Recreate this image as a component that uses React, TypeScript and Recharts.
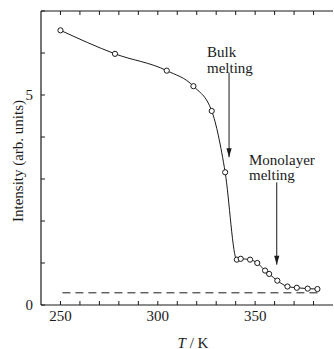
import React from 'react';
import { LineChart, Line, XAxis, YAxis } from 'recharts';

const temperatures = [250, 278, 304.6, 318.3, 327.7, 334.6, 340.6, 342.6, 347.4, 351.1, 355.1, 357.2, 361.4, 366.6, 371.4, 377.0, 382.0];
const intensities = [6.54, 5.98, 5.58, 5.21, 4.62, 3.16, 1.08, 1.10, 1.08, 1.0, 0.82, 0.74, 0.58, 0.44, 0.41, 0.39, 0.38];

const baselineT = [251, 384];
const baselineI = [0.29, 0.29];

const bulkArrowT = [336.6, 336.6];
const bulkArrowI = [5.53, 3.52];
const monoArrowT = [361.1, 361.1];
const monoArrowI = [2.92, 0.96];

const xTicks = [250, 260, 270, 280, 290, 300, 310, 320, 330, 340, 350, 360, 370, 380];
const xLabels = [250, 300, 350];
const yTicks = [0, 1, 2, 3, 4, 5, 6, 7];
const yLabels = [0, 5];

const zip = (xs: number[], ys: number[]) => xs.map((x, i) => ({ x, y: ys[i] }));

const mainData = zip(temperatures, intensities);
const baselineData = zip(baselineT, baselineI);
const bulkArrowData = zip(bulkArrowT, bulkArrowI);
const monoArrowData = zip(monoArrowT, monoArrowI);

const FONT = '"Liberation Serif", "DejaVu Serif", serif';
const INK = '#1a1a1a';
const TICK_LEN = 4;
const BOTTOM_MARGIN = 10;
const LEFT_MARGIN = 7;

const ArrowHead = (props: any) => {
  const { cx, cy, index } = props;
  if (index !== 1 || cx == null || cy == null) return <g key={`a-${index}`} />;
  return (
    <path
      key={`a-${index}`}
      d={`M${cx},${cy} L${cx - 2.6},${cy - 9} L${cx + 2.6},${cy - 9} Z`}
      fill={INK}
      stroke="none"
    />
  );
};

const BottomTick = (props: any) => {
  const { x, y, payload } = props;
  const axisY = y - BOTTOM_MARGIN;
  const v = payload.value;
  return (
    <g>
      <line x1={x} y1={axisY} x2={x} y2={axisY - TICK_LEN} stroke={INK} strokeWidth={1} />
      {xLabels.includes(v) ? (
        <text x={x} y={y + 1} dy="0.35em" textAnchor="middle" fill={INK} fontSize={15} fontFamily={FONT}>
          {v}
        </text>
      ) : null}
    </g>
  );
};

const TopTick = (props: any) => {
  const { x, y } = props;
  return <line x1={x} y1={y} x2={x} y2={y + TICK_LEN} stroke={INK} strokeWidth={1} />;
};

const LeftTick = (props: any) => {
  const { x, y, payload } = props;
  const axisX = x + LEFT_MARGIN;
  const v = payload.value;
  return (
    <g>
      <line x1={axisX} y1={y} x2={axisX + TICK_LEN} y2={y} stroke={INK} strokeWidth={1} />
      {yLabels.includes(v) ? (
        <text x={x - 1} y={y} dy="0.33em" textAnchor="end" fill={INK} fontSize={15} fontFamily={FONT}>
          {v}
        </text>
      ) : null}
    </g>
  );
};

const textStyle: React.CSSProperties = {
  position: 'absolute',
  fontFamily: FONT,
  fontSize: 15,
  color: INK,
  whiteSpace: 'nowrap',
};

export default function App() {
  return (
    <div style={{ position: 'absolute', left: 0, top: 0, width: 334, height: 349, background: '#fff' }}>
      <LineChart width={334} height={349} margin={{ top: 10, right: 1, bottom: 0, left: 0 }}>
        <XAxis
          dataKey="x"
          type="number"
          domain={[240, 390]}
          allowDataOverflow
          ticks={xTicks}
          height={44}
          tickSize={0}
          tickMargin={BOTTOM_MARGIN}
          interval={0}
          axisLine={{ stroke: INK, strokeWidth: 1.2 }}
          tickLine={false}
          tick={BottomTick}
        />
        <XAxis
          xAxisId="top"
          orientation="top"
          dataKey="x"
          type="number"
          domain={[240, 390]}
          allowDataOverflow
          ticks={xTicks}
          height={1}
          tickSize={0}
          tickMargin={0}
          interval={0}
          axisLine={{ stroke: INK, strokeWidth: 1.2 }}
          tickLine={false}
          tick={TopTick}
        />
        <YAxis
          type="number"
          domain={[0, 7]}
          allowDataOverflow
          ticks={yTicks}
          width={41}
          tickSize={0}
          tickMargin={LEFT_MARGIN}
          interval={0}
          axisLine={{ stroke: INK, strokeWidth: 1.2 }}
          tickLine={false}
          tick={LeftTick}
        />
        <Line
          data={baselineData}
          dataKey="y"
          type="linear"
          stroke={INK}
          strokeWidth={1}
          strokeDasharray="8 5"
          dot={false}
          activeDot={false}
          isAnimationActive={false}
        />
        <Line
          data={mainData}
          dataKey="y"
          type="monotone"
          stroke={INK}
          strokeWidth={1}
          dot={{ r: 2.6, stroke: INK, strokeWidth: 1, fill: '#fff' }}
          activeDot={false}
          isAnimationActive={false}
        />
        <Line
          data={bulkArrowData}
          dataKey="y"
          type="linear"
          stroke={INK}
          strokeWidth={1}
          dot={ArrowHead}
          activeDot={false}
          isAnimationActive={false}
        />
        <Line
          data={monoArrowData}
          dataKey="y"
          type="linear"
          stroke={INK}
          strokeWidth={1}
          dot={ArrowHead}
          activeDot={false}
          isAnimationActive={false}
        />
      </LineChart>
      <div
        style={{
          ...textStyle,
          left: 18,
          top: 161,
          lineHeight: '15px',
          transform: 'translate(-50%, -50%) rotate(-90deg)',
        }}
      >
        Intensity (arb. units)
      </div>
      <div style={{ ...textStyle, left: 193, top: 343, lineHeight: '15px', transform: 'translate(-50%, -50%)' }}>
        <span style={{ fontStyle: 'italic' }}>T</span> / K
      </div>
      <div style={{ ...textStyle, left: 207, top: 44, lineHeight: '16px' }}>
        Bulk
        <br />
        melting
      </div>
      <div style={{ ...textStyle, left: 249, top: 152.5, lineHeight: '15px' }}>
        Monolayer
        <br />
        melting
      </div>
    </div>
  );
}
